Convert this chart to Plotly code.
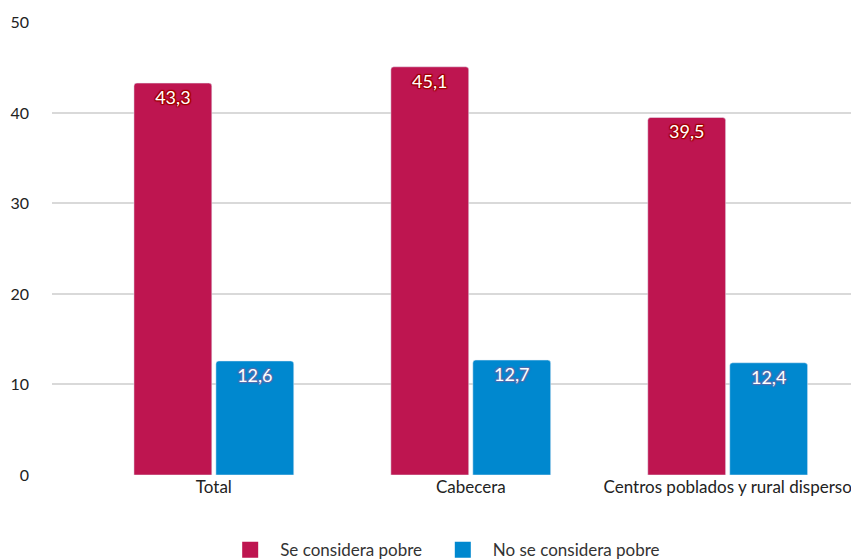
import plotly.graph_objects as go

categories = ["Total", "Cabecera", "Centros poblados y rural disperso"]
pobre = [43.3, 45.1, 39.5]
no_pobre = [12.6, 12.7, 12.4]
y_ticks = [0, 10, 20, 30, 40, 50]
series_names = ["Se considera pobre", "No se considera pobre"]

RED = "#BE1550"
BLUE = "#0088CF"
FONT = "Lato, Open Sans, sans-serif"


def outline(c):
    return ", ".join(f"{dx}px {dy}px 1px {c}" for dx, dy in
                     [(1, 1), (-1, -1), (1, -1), (-1, 1), (0, 1), (0, -1), (1, 0), (-1, 0)])


fig = go.Figure()
fig.add_trace(go.Bar(
    x=categories, y=pobre, name=series_names[0], showlegend=False,
    marker=dict(color=RED, cornerradius=3),
    texttemplate="%{y:.1f}", textposition="inside", insidetextanchor="end",
    textfont=dict(family=FONT, size=18, color="white", shadow=outline("#A00000")),
))
fig.add_trace(go.Bar(
    x=categories, y=no_pobre, name=series_names[1], showlegend=False,
    marker=dict(color=BLUE, cornerradius=3),
    texttemplate="%{y:.1f}", textposition="inside", insidetextanchor="end",
    textfont=dict(family=FONT, size=18, color="white", shadow=outline("#4F6FB0")),
))
# legend entries with bigger square symbols, one legend each so spacing can be set
for name, col, lg in zip(series_names, [RED, BLUE], ["legend", "legend2"]):
    fig.add_trace(go.Scatter(
        x=[None], y=[None], mode="markers", name=name, legend=lg,
        marker=dict(symbol="square", size=22, color=col),
    ))

leg_style = dict(orientation="h", xanchor="left", y=-0.166, yanchor="middle",
                 font=dict(size=17, color="#333333"), itemwidth=50, itemsizing="trace",
                 bgcolor="rgba(0,0,0,0)")

fig.update_layout(
    width=851, height=560,
    margin=dict(l=52, r=0, t=22, b=85, autoexpand=False),
    paper_bgcolor="white", plot_bgcolor="white",
    separators=",.",
    barmode="group", bargap=0.362, bargroupgap=0.05,
    font=dict(family=FONT, size=17, color="#333333"),
    showlegend=True,
    legend=dict(x=0.2105, **leg_style),
    legend2=dict(x=0.4766, **leg_style),
)
fig.update_xaxes(range=[-0.63, 2.48], showgrid=False, showline=False, automargin=False,
                 ticks="", tickfont=dict(size=17, color="#222222"))
fig.update_yaxes(range=[0, 50.05], tickvals=y_ticks, showgrid=True, gridcolor="#D9D9D9",
                 gridwidth=1.5, zeroline=False, showline=False, automargin=False,
                 ticklabelstandoff=22, tickfont=dict(size=16, color="#222222"))

# drop the default 8px body margin so the figure fills the window
fig.write_html("out.html", config={"displayModeBar": False},
               post_script="document.body.style.margin='0';document.body.style.overflow='hidden';")
